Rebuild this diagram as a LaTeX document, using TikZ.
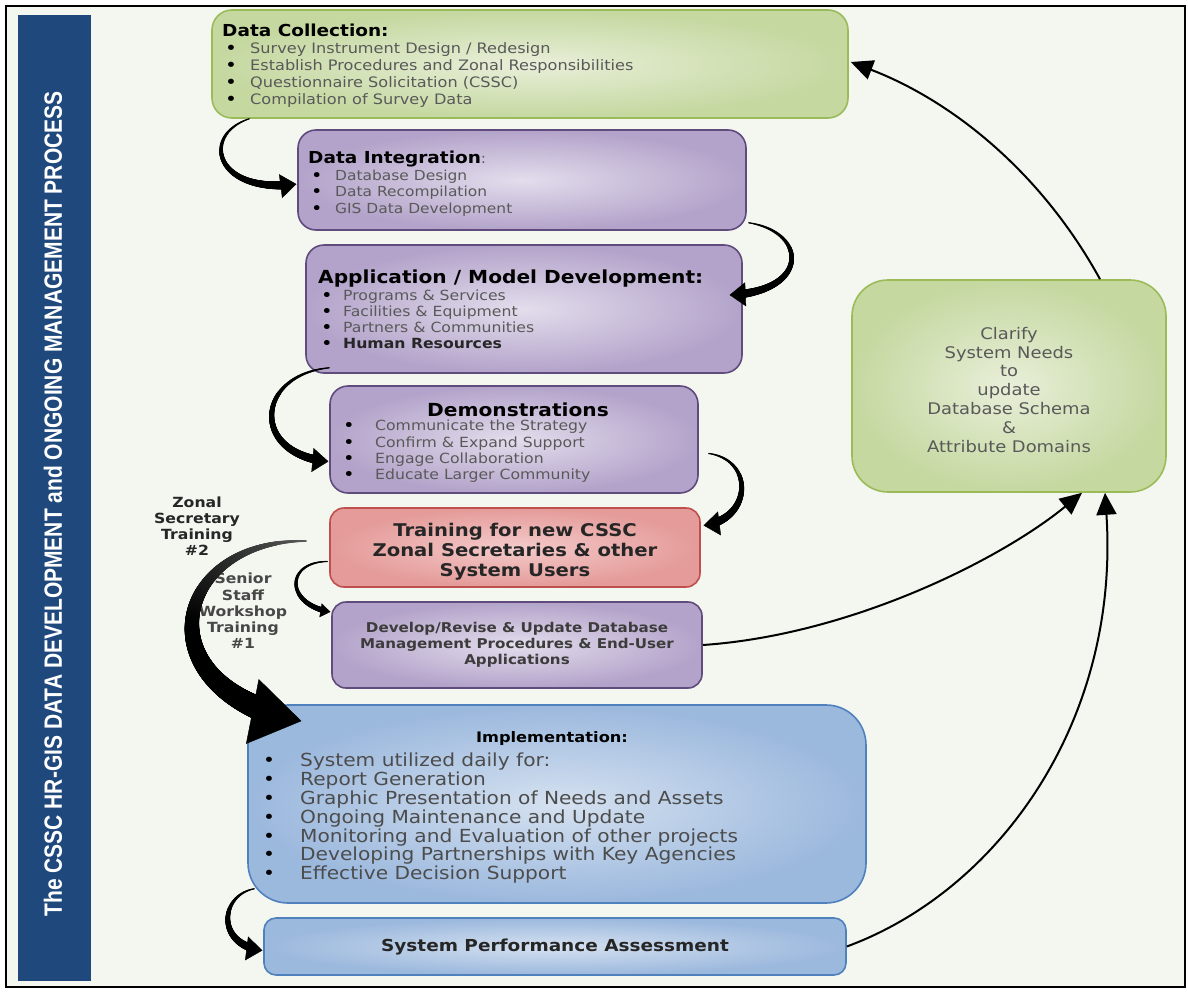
\documentclass[tikz,border=0pt]{standalone}
\usepackage{fontspec}
\setmainfont[FakeStretch=1.12]{DejaVu Sans}
\newfontfamily\barfont[FakeStretch=0.84]{Liberation Sans}
\usetikzlibrary{arrows.meta,decorations.markings}

\definecolor{pagebg}{HTML}{F4F6F0}
\definecolor{barblue}{HTML}{1F497D}
\definecolor{greenline}{HTML}{9BBB59}
\definecolor{greenin}{HTML}{E8EFD9}
\definecolor{greenout}{HTML}{C5D8A0}
\definecolor{purpleline}{HTML}{5F4B7C}
\definecolor{purplein}{HTML}{E3DDEC}
\definecolor{purpleout}{HTML}{B3A3CA}
\definecolor{redline}{HTML}{C0504D}
\definecolor{redin}{HTML}{F4CACA}
\definecolor{redout}{HTML}{E49B99}
\definecolor{blueline}{HTML}{4F81BD}
\definecolor{bluein}{HTML}{D5E1F0}
\definecolor{blueout}{HTML}{9BB8DD}
\definecolor{itemgrey}{HTML}{595959}
\definecolor{darktext}{HTML}{262626}

\newcommand{\bul}[2][28pt]{\makebox[#1][l]{\hspace{3pt}\color{black}\smash{\raisebox{-1pt}{\scalebox{1.25}{\textbullet}}}}#2}
\newcommand{\implbul}[1]{\makebox[41pt][l]{\hspace{4pt}\color{black}\textbullet}#1}

\tikzstyle{greenbox}=[draw=greenline, line width=1.6pt, rounded corners=20pt, inner color=greenin, outer color=greenout]
\tikzstyle{purplebox}=[draw=purpleline, line width=1.6pt, rounded corners=18pt, inner color=purplein, outer color=purpleout]
\tikzstyle{redbox}=[draw=redline, line width=1.6pt, rounded corners=14pt, inner color=redin, outer color=redout]
\tikzstyle{bluebox}=[draw=blueline, line width=1.6pt, rounded corners=14pt, inner color=bluein, outer color=blueout]
\tikzstyle{txt}=[inner sep=0pt, align=left, text=itemgrey]
\tikzstyle{arrow}=[line width=2pt, -{Triangle[length=22pt, width=20pt]}]

\tikzset{
  taper/.style n args={4}{postaction={decorate, decoration={markings,
    mark=between positions 0 and -#1 step 0.4pt with {
      \pgfmathsetmacro\tapr{0.6+#4*\pgfkeysvalueof{/pgf/decoration/mark info/distance from start}/\pgfdecoratedpathlength}
      \fill (0,0) circle[radius=\tapr pt];}}},
    postaction={decorate, decoration={markings,
    mark=at position -0.8pt with {\arrow{Triangle[length=#2, width=#3]}}}}},
  bigtaper/.style n args={4}{postaction={decorate, decoration={markings,
    mark=between positions 0 and -#1 step 0.4pt with {
      \pgfmathsetmacro\tapf{\pgfkeysvalueof{/pgf/decoration/mark info/distance from start}/\pgfdecoratedpathlength}
      \pgfmathsetmacro\tapr{0.8+#4*\tapf}
      \pgfmathtruncatemacro\tapc{min(100,30+140*\tapf)}
      \fill[black!\tapc!gray] (0,0) circle[radius=\tapr pt];}}},
    postaction={decorate, decoration={markings,
    mark=at position -0.8pt with {\arrow{Triangle[length=#2, width=#3]}}}}},
  curl/.style={taper={10pt}{16pt}{24pt}{4}}
}

\begin{document}
\begin{tikzpicture}[x=1pt, y=-1pt]
  \useasboundingbox (0,0) rectangle (1188,993);
  \draw[line width=1.2pt, fill=pagebg] (6,6) rectangle (1185,987);
  \fill[barblue] (18,15) rectangle (91,981);
  \node[rotate=90, text=white, font=\barfont\bfseries\fontsize{25}{28}\selectfont] (bartitle) at (53,504)
    {The CSSC HR-GIS DATA DEVELOPMENT and ONGOING MANAGEMENT PROCESS};

  % process boxes
  \node[greenbox, minimum width=636pt, minimum height=108pt] (dcoll) at (530,64) {};
  \node[purplebox, minimum width=448pt, minimum height=100pt] (integ) at (522,180) {};
  \node[purplebox, minimum width=436pt, minimum height=128pt] (appdev) at (524,309) {};
  \node[purplebox, minimum width=368pt, minimum height=107pt] (demo) at (514,439.5) {};
  \node[redbox, minimum width=370pt, minimum height=79pt, align=center, text=darktext,
        font=\bfseries\fontsize{17.5}{20}\selectfont] (train) at (515,547.5)
    {\rule{0pt}{21pt}Training for new CSSC\\Zonal Secretaries \& other\\System Users};
  \node[purplebox, rounded corners=14pt, minimum width=370pt, minimum height=86pt, align=center,
        text=darktext!90, font=\bfseries\fontsize{13.5}{16}\selectfont] (revise) at (517,645)
    {Develop/Revise \& Update Database\\Management Procedures \& End-User\\Applications};
  \node[bluebox, rounded corners=40pt, minimum width=618pt, minimum height=198pt] (impl) at (557,804) {};
  \node[bluebox, rounded corners=12pt, minimum width=582pt, minimum height=57pt, text=darktext,
        font=\bfseries\fontsize{16.5}{18}\selectfont] (perf) at (555,946.5) {System Performance Assessment};
  \node[greenbox, rounded corners=36pt, minimum width=314pt, minimum height=212pt, align=center,
        text=itemgrey, font=\fontsize{16}{18.9}\selectfont] (clarify) at (1009,386)
    {\rule{0pt}{20pt}Clarify\\System Needs\\to\\update\\Database Schema\\\&\\Attribute Domains};

  % box texts
  \node[txt, anchor=north west, font=\fontsize{14.4}{17}\selectfont] (dcolltxt) at (222,23.5)
    {{\color{black}\bfseries\fontsize{16.5}{17}\selectfont Data Collection:}\\
     \bul{Survey Instrument Design / Redesign}\\
     \bul{Establish Procedures and Zonal Responsibilities}\\
     \bul{Questionnaire Solicitation (CSSC)}\\
     \bul{Compilation of Survey Data}};
  \node[txt, anchor=north west, font=\fontsize{13.8}{16.5}\selectfont] (integtxt) at (308,151)
    {{\color{black}\bfseries\fontsize{16.5}{16.5}\selectfont Data Integration}:\\
     \bul[27pt]{Database Design}\\
     \bul[27pt]{Data Recompilation}\\
     \bul[27pt]{GIS Data Development}};
  \node[txt, anchor=north west, font=\fontsize{14}{16.2}\selectfont] (appdevtxt) at (318,270)
    {{\color{black}\bfseries\fontsize{18}{16.2}\selectfont Application / Model Development:}\\
     \bul[25pt]{Programs \& Services}\\
     \bul[25pt]{Facilities \& Equipment}\\
     \bul[25pt]{Partners \& Communities}\\
     \bul[25pt]{\color{darktext}\bfseries Human Resources}};
  \node[font=\bfseries\fontsize{18}{18}\selectfont] (demotitle) at (518,410) {Demonstrations};
  \node[txt, anchor=north west, font=\fontsize{14}{16.3}\selectfont] (demotxt) at (340,420)
    {\bul[35pt]{Communicate the Strategy}\\
     \bul[35pt]{Confirm \& Expand Support}\\
     \bul[35pt]{Engage Collaboration}\\
     \bul[35pt]{Educate Larger Community}};
  \node[font=\bfseries\fontsize{14.5}{18}\selectfont] (impltitle) at (552,738) {Implementation:};
  \node[txt, anchor=north west, text=itemgrey!85!black, font=\fontsize{18}{18.8}\selectfont] (impltxt) at (259,753)
    {\implbul{System utilized daily for:}\\
     \implbul{Report Generation}\\
     \implbul{Graphic Presentation of Needs and Assets}\\
     \implbul{Ongoing Maintenance and Update}\\
     \implbul{Monitoring and Evaluation of other projects}\\
     \implbul{Developing Partnerships with Key Agencies}\\
     \implbul{Effective Decision Support}};

  % training labels
  \node[align=center, text=darktext, font=\bfseries\fontsize{14}{16}\selectfont] (zonallbl) at (197,526)
    {Zonal\\Secretary\\Training\\\#2};
  \node[align=center, text=itemgrey!80!black, font=\bfseries\fontsize{14}{16.3}\selectfont] (seniorlbl) at (243,611)
    {Senior\\Staff\\Workshop\\Training\\\#1};

  % curled arrows down the process
  \path[curl] ([shift={(38,0)}]dcoll.south west) .. controls (200,135) and (215,195) .. ([shift={(0,4)}]integ.west);
  \path[curl] ([shift={(2,-8)}]integ.south east) .. controls (808,232) and (810,292) .. ([shift={(-14,-14)}]appdev.east);
  \path[curl] ([shift={(24,-6)}]appdev.south west) .. controls (255,375) and (250,455) .. ([shift={(0,22)}]demo.west);
  \path[curl] ([shift={(10,14)}]demo.east) .. controls (755,460) and (752,520) .. ([shift={(2,-22)}]train.east);
  \path[taper={6pt}{10pt}{14pt}{2.4}] ([shift={(-2,14)}]train.west) .. controls (285,562) and (285,605) .. ([shift={(0,-33)}]revise.west);
  \coordinate (zonalstart) at (306,541);
  \path[bigtaper={32pt}{50pt}{66pt}{13}] (zonalstart) .. controls (170,540) and (140,690) .. ([shift={(55,17)}]impl.north west);
  \path[curl] ([shift={(7,-15)}]impl.south west) .. controls (220,895) and (215,945) .. ([shift={(0,4)}]perf.west);

  % feedback arrows
  \draw[arrow] ([shift={(91,0)}]clarify.north) .. controls (1040,170) and (950,100) .. ([shift={(2,-2)}]dcoll.east);
  \draw[arrow] (revise.east) .. controls (850,635) and (1000,560) .. ([shift={(73,0)}]clarify.south);
  \draw[arrow] (perf.east) .. controls (1000,890) and (1120,720) .. ([shift={(96,0)}]clarify.south);
\end{tikzpicture}
\end{document}
